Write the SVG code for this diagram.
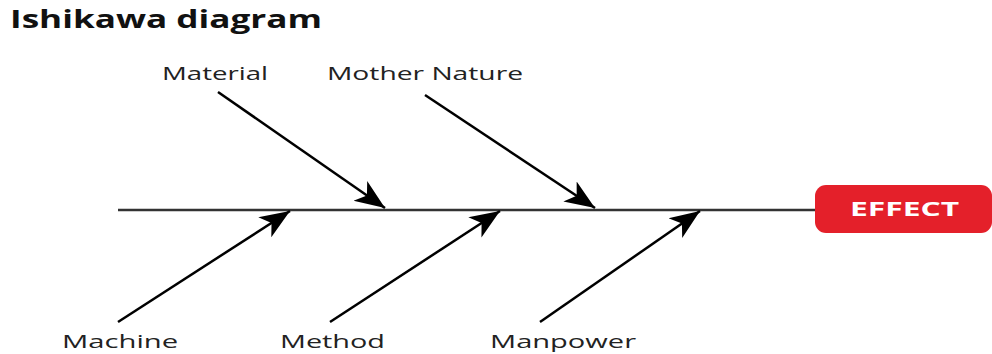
<svg xmlns="http://www.w3.org/2000/svg" width="992" height="354" viewBox="0 0 992 354">
<style>
.lbl{font-family:"Open Sans","Liberation Sans",sans-serif;font-size:19px;fill:#222}
.bone{stroke:#000;stroke-width:2.5;fill:none}
</style>
<defs>
<marker id="ah" markerUnits="userSpaceOnUse" markerWidth="32" markerHeight="26" viewBox="0 0 32 26" refX="30" refY="13" orient="auto">
<path d="M0,1 L30,13 L0,25 L8,13 Z" fill="#000"/>
</marker>
</defs>
<rect width="992" height="354" fill="#fff"/>
<text transform="matrix(1.4,0,0,1,10,28)" x="0" y="0" textLength="222.9" lengthAdjust="spacingAndGlyphs" font-family="'Open Sans','Liberation Sans',sans-serif" font-size="25" font-weight="bold" fill="#111">Ishikawa diagram</text>
<g id="connectors">
<line x1="118" y1="210" x2="818" y2="210" stroke="#333" stroke-width="2.5"/>
<line class="bone" x1="218" y1="92" x2="385" y2="208" marker-end="url(#ah)"/>
<line class="bone" x1="425" y1="95" x2="595" y2="208" marker-end="url(#ah)"/>
<line class="bone" x1="118" y1="322" x2="290" y2="211" marker-end="url(#ah)"/>
<line class="bone" x1="330" y1="322" x2="500" y2="211" marker-end="url(#ah)"/>
<line class="bone" x1="540" y1="322" x2="700" y2="211" marker-end="url(#ah)"/>
</g>
<g id="effect">
<rect x="815" y="185" width="177" height="48" rx="11" fill="#e4202a"/>
<text transform="matrix(1.5,0,0,1,850,216)" x="0" y="0" textLength="72.7" lengthAdjust="spacingAndGlyphs" font-family="'Open Sans','Liberation Sans',sans-serif" font-size="20" font-weight="bold" fill="#fff">EFFECT</text>
</g>
<g id="material"><text class="lbl" transform="matrix(1.4,0,0,1,162,80)" x="0" y="0" textLength="75.7" lengthAdjust="spacingAndGlyphs">Material</text></g>
<g id="mother-nature"><text class="lbl" transform="matrix(1.4,0,0,1,327,80)" x="0" y="0" textLength="140" lengthAdjust="spacingAndGlyphs">Mother Nature</text></g>
<g id="machine"><text class="lbl" transform="matrix(1.4,0,0,1,62,348)" x="0" y="0" textLength="82.9" lengthAdjust="spacingAndGlyphs">Machine</text></g>
<g id="method"><text class="lbl" transform="matrix(1.4,0,0,1,280,348)" x="0" y="0" textLength="75" lengthAdjust="spacingAndGlyphs">Method</text></g>
<g id="manpower"><text class="lbl" transform="matrix(1.4,0,0,1,490,348)" x="0" y="0" textLength="104.3" lengthAdjust="spacingAndGlyphs">Manpower</text></g>
</svg>
